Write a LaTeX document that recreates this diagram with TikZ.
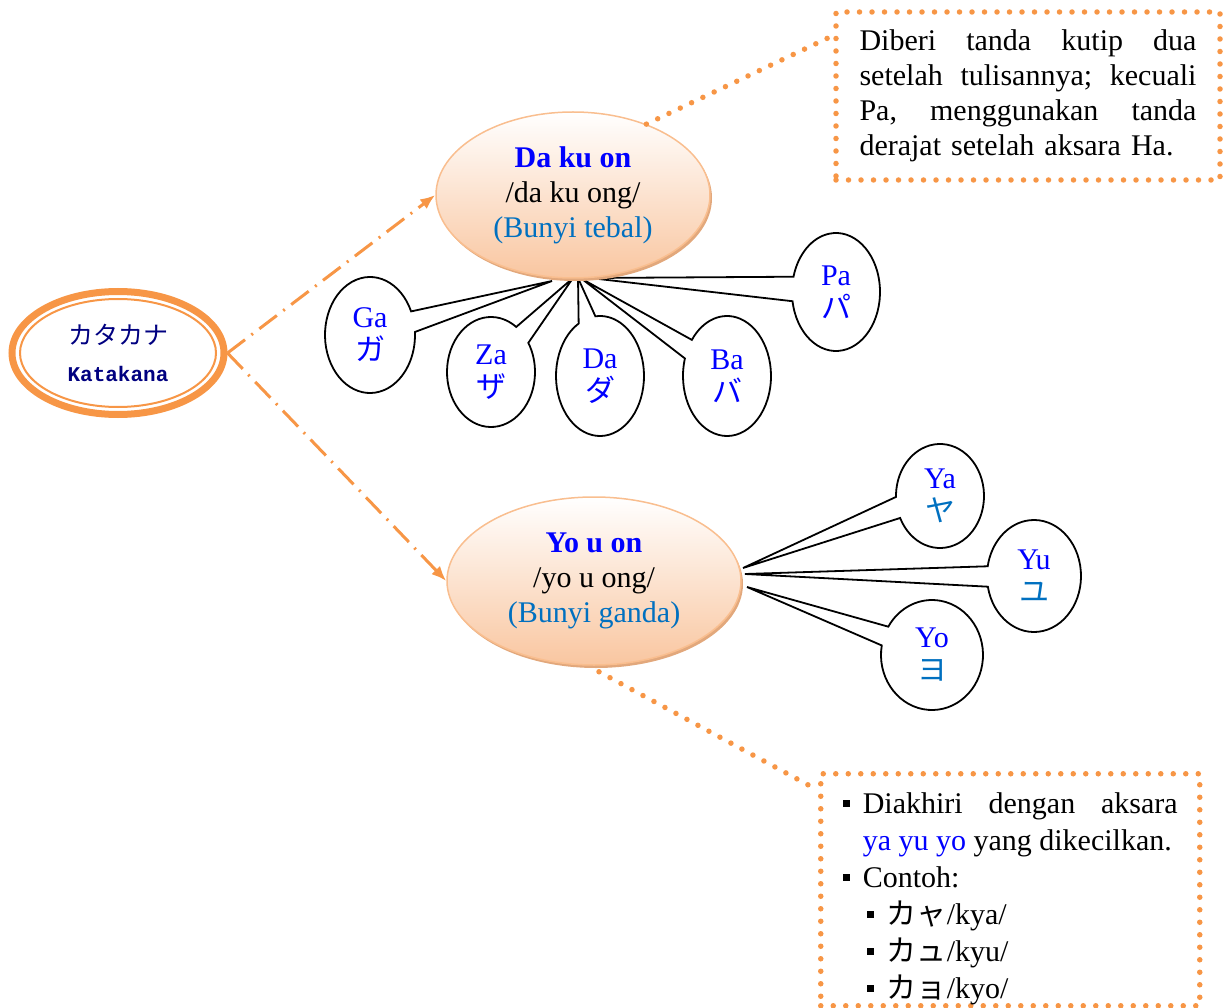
\documentclass[tikz,border=0pt]{standalone}
\usepackage{fontspec}
\setmainfont{Liberation Serif}
\newfontfamily\jp{Noto Sans CJK JP}
\newfontfamily\katamono{Liberation Mono}
\usepackage{tikz}
\usetikzlibrary{shapes,arrows,arrows.meta,calc,shadows}
\usepackage{xcolor}
\definecolor{naranja}{RGB}{247,150,70}
\definecolor{azul}{RGB}{0,0,255}
\definecolor{celeste}{RGB}{0,112,192}
\definecolor{marino}{RGB}{0,0,128}
\definecolor{durazno}{RGB}{249,198,160}
\definecolor{bordedurazno}{RGB}{249,190,143}
\definecolor{sombra}{RGB}{226,168,124}
\newcommand{\cuadrito}{\raisebox{6.5pt}{\rule{7pt}{7pt}}}

\begin{document}
\begin{tikzpicture}[x=1pt,y=-1pt,font=\fontsize{30}{35}\selectfont,
    bocadillo/.style={draw=black,line width=1.8pt,fill=white},
    kana/.style={align=center,text=azul,inner sep=0pt,font=\fontsize{30}{33}\selectfont},
    centro/.style={ellipse,draw=bordedurazno,line width=1.5pt,top color=white,bottom color=durazno,
        align=center,inner sep=0pt,drop shadow={shadow xshift=2pt,shadow yshift=-3pt,fill=sombra,opacity=1}},
    punteado/.style={draw=naranja,line width=5.5pt,line cap=round,dash pattern=on 0pt off 12.5pt},
    flecha/.style={draw=naranja,line width=3pt,dash pattern=on 22pt off 8pt on 2pt off 8pt,-{Latex[length=15pt,width=12pt]}}]
            \useasboundingbox (0,0) rectangle (1223,1008);
            % elipse de Katakana
            \node[ellipse,draw=naranja,line width=7pt,minimum width=212,minimum height=123,align=center,
                inner sep=0pt,text=marino,font=\fontsize{25}{37}\selectfont] (kata) at (118,353)
                {{\jp カタカナ}\\{\katamono\bfseries\fontsize{21}{37}\selectfont Katakana}};
            \draw[naranja,line width=2pt] (kata.center) ellipse [x radius=98,y radius=54];
            % bocadillos
            \foreach \cx/\cy/\rx/\ry/\aa/\ab/\tx/\ty/\nom/\lat/\kn/\col in {
                370/335/45/58/24/3/552/281/ga/Ga/ガ/azul,
                491/372/44/55/55/32/573/278/za/Za/ザ/azul,
                600/376/44/60/119/96/578/278/da/Da/ダ/azul,
                727/376/44/60/163/143/582/279/ba/Ba/バ/azul,
                836/292/44/59/189/165/590/278/pa/Pa/パ/azul,
                940/496/44/52/205/181/743/568/ya/Ya/ヤ/celeste,
                1034/576/47/56/191/170/745/574/yu/Yu/ユ/celeste,
                932/655/51/55/170/149/747/587/yo/Yo/ヨ/celeste}{
            \draw[bocadillo] (\tx,\ty) -- ($(\cx,\cy)+({\rx*cos(-\aa)},{\ry*sin(-\aa)})$)
                arc[start angle=-\aa,end angle=-\ab-360,x radius=\rx,y radius=\ry] -- cycle;
            \node[kana] (\nom) at (\cx,\cy) {\lat\\{\jp\color{\col}\kn}};
            }
            % elipses centrales
            \node[centro,minimum width=274,minimum height=166] (daku) at (573,195)
                {\textcolor{azul}{\textbf{Da ku on}}\\/da ku ong/\\\textcolor{celeste}{(Bunyi tebal)}};
            \node[centro,minimum width=294,minimum height=168] (youon) at (594,581)
                {\textcolor{azul}{\textbf{Yo u on}}\\/yo u ong/\\\textcolor{celeste}{(Bunyi ganda)}};
            \draw[flecha] (kata.east) -- (daku.west);
            \draw[flecha] (kata.east) -- (youon.west);
            % notas
            \node[punteado,text width=337,inner xsep=23.5,minimum height=168,align=left] (nota1) at (1028,96)
                {Diberi\hfill tanda\hfill kutip\hfill dua\\ setelah\hfill tulisannya;\hfill kecuali\\
                 Pa,\hfill menggunakan\hfill tanda\\ derajat setelah aksara Ha.};
            \node[punteado,inner xsep=22,inner ysep=19,anchor=north west] (nota2) at (818,771)
                {\parbox[t][194pt][t]{335pt}{\fontsize{30}{37}\selectfont\leftskip=20pt\parindent=0pt
                \noindent\llap{\cuadrito\hskip13pt}Diakhiri\hfill dengan\hfill aksara\\
                \textcolor{azul}{ya yu yo} yang dikecilkan.\par
                \noindent\llap{\cuadrito\hskip13pt}Contoh:\par
                \noindent\hspace*{24pt}\llap{\cuadrito\hskip13pt}{\jp カャ}/kya/\par
                \noindent\hspace*{24pt}\llap{\cuadrito\hskip13pt}{\jp カュ}/kyu/\par
                \noindent\hspace*{24pt}\llap{\cuadrito\hskip13pt}{\jp カョ}/kyo/\par}};
            \coordinate (fin1) at (828,38);
            \draw[punteado] (daku.44) -- (fin1);
            \coordinate (fin2) at (812,787);
            \draw[punteado] ([xshift=5pt,yshift=-6pt]youon.south) -- (fin2);
\end{tikzpicture}
\end{document}
